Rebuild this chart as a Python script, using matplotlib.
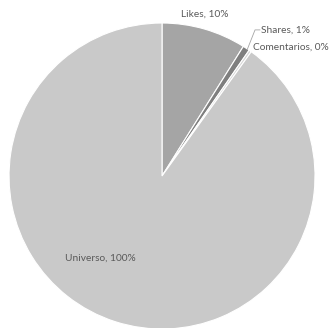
import matplotlib
matplotlib.use("Agg")
import matplotlib.pyplot as plt

# Interaction counts against the total audience (Universo = 100)
labels = ["Likes", "Shares", "Comentarios", "Universo"]
values = [9.9, 0.8, 0.3, 100]
colors = ["#a5a5a5", "#7f7f7f", "#d6d6d6", "#c9c9c9"]

plt.rcParams["font.family"] = ["Lato", "DejaVu Sans"]

fig = plt.figure(figsize=(3.3, 3.28), dpi=100)
ax = fig.add_axes([0, 0, 1, 1])

wedges, _ = ax.pie(values, colors=colors, startangle=90, counterclock=False,
                   radius=1.0, wedgeprops=dict(edgecolor="white", linewidth=0.8))

ax.set_aspect("equal")
ax.set_xlim(-1.059, 1.098)
ax.set_ylim(-0.993, 1.150)
ax.axis("off")

base = values[3]
pct = [f"{name}, {v / base * 100:.0f}%" for name, v in zip(labels, values)]
txt = dict(fontsize=7.3, color="#595959")

ax.text(0.281, 1.06, pct[0], ha="center", va="center", **txt)
ax.text(0.645, 0.955, pct[1], ha="left", va="center", **txt)
ax.plot([0.556, 0.608, 0.640], [0.824, 0.955, 0.955], color="#a5a5a5", lw=0.6)
ax.text(0.595, 0.84, pct[2], ha="left", va="center", **txt)
ax.text(-0.405, -0.536, pct[3], ha="center", va="center", **txt)

fig.savefig("out.png", dpi=100, facecolor="white")
